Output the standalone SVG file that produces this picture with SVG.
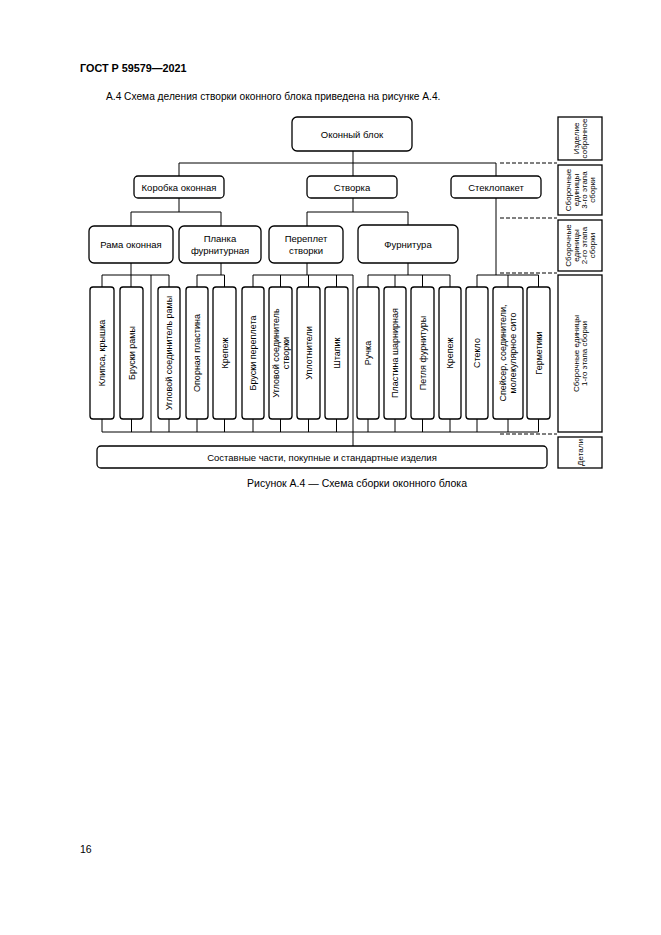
<svg xmlns="http://www.w3.org/2000/svg" width="661" height="935" viewBox="0 0 661 935">
<style>
.b{fill:#fff;stroke:#000;stroke-width:1.3}
.c{fill:none;stroke:#000;stroke-width:1}
.d{fill:none;stroke:#000;stroke-width:1;stroke-dasharray:4 2}
text{font-family:"Liberation Sans",Arial,sans-serif;fill:#000}
.t{font-size:9.5px;text-anchor:middle}
.v{font-size:9px;text-anchor:middle}
.s{font-size:8px;text-anchor:middle}
</style>
<rect width="661" height="935" fill="#fff"/>
<text x="80" y="72" style="font-size:10.8px;font-weight:bold">ГОСТ Р 59579—2021</text>
<text x="106" y="100" style="font-size:10.2px">А.4 Схема деления створки оконного блока приведена на рисунке А.4.</text>

<g id="connectors">
<path class="c" d="M353 151V176M179 163H496M179 163V176M496 163V275"/>
<path class="c" d="M179 198V212M131 212H221M131 212V226M221 212V226"/>
<path class="c" d="M353 198V212M307 212H408M307 212V226M408 212V225"/>
<path class="c" d="M131 263V287M102 275H169M102 275V287M169 275V287M151 275V432"/>
<path class="c" d="M221 263V275M197 275H224.5M197 275V287M224.5 275V287"/>
<path class="c" d="M307 263V275M253 275H353M253 275V287M280.5 275V287M308.5 275V287M336.5 275V287M353 275V446"/>
<path class="c" d="M408 263V275M368 275H450M368 275V287M395 275V287M422.5 275V287M450 275V287"/>
<path class="c" d="M477 275H538.5M477 275V287M508 275V287M538.5 275V287"/>
<path class="c" d="M102 432H538.5M102 419V432M131.5 419V432M169 419V432M197 419V432M224.5 419V432M253 419V432M280.5 419V432M308.5 419V432M336.5 419V432M368 419V432M395 419V432M422.5 419V432M450 419V432M477 419V432M508 419V432M538.5 419V432"/>
<path class="d" d="M500 163H557M500 218H557M500 273H557M500 434H557"/>
</g>

<g id="n-okonny-blok"><rect class="b" x="292" y="117" width="120" height="34" rx="5"/><text class="t" x="352" y="137.5">Оконный блок</text></g>
<g id="n-korobka"><rect class="b" x="134" y="176" width="90" height="22" rx="4"/><text class="t" x="179" y="190.5">Коробка оконная</text></g>
<g id="n-stvorka"><rect class="b" x="307" y="176" width="90" height="22" rx="4"/><text class="t" x="352" y="190.5">Створка</text></g>
<g id="n-steklopaket"><rect class="b" x="451" y="176" width="90" height="22" rx="4"/><text class="t" x="496" y="190.5">Стеклопакет</text></g>

<g id="n-rama"><rect class="b" x="89" y="226" width="84" height="37" rx="5"/><text class="t" x="131" y="248">Рама оконная</text></g>
<g id="n-planka"><rect class="b" x="179" y="226" width="82" height="37" rx="5"/><text class="t" x="220" y="242">Планка</text><text class="t" x="220" y="254">фурнитурная</text></g>
<g id="n-pereplet"><rect class="b" x="269" y="226" width="74" height="37" rx="5"/><text class="t" x="306" y="242">Переплет</text><text class="t" x="306" y="254">створки</text></g>
<g id="n-furnitura"><rect class="b" x="358" y="225" width="100" height="38" rx="5"/><text class="t" x="408" y="247.5">Фурнитура</text></g>

<g id="n-klipsa"><rect class="b" x="90" y="287" width="24" height="132" rx="3"/><text class="v" transform="translate(102 353) rotate(-90)" y="3.2">Клипса, крышка</text></g>
<g id="n-bruski-ramy"><rect class="b" x="120" y="287" width="23" height="132" rx="3"/><text class="v" transform="translate(131.5 353) rotate(-90)" y="3.2">Бруски рамы</text></g>
<g id="n-uglovoy-ramy"><rect class="b" x="158" y="287" width="22" height="132" rx="3"/><text class="v" transform="translate(169 353) rotate(-90)" y="3.2">Угловой соединитель рамы</text></g>
<g id="n-opornaya"><rect class="b" x="186" y="287" width="22" height="132" rx="3"/><text class="v" transform="translate(197 353) rotate(-90)" y="3.2">Опорная пластина</text></g>
<g id="n-krepezh1"><rect class="b" x="213" y="287" width="23" height="132" rx="3"/><text class="v" transform="translate(224.5 353) rotate(-90)" y="3.2">Крепеж</text></g>
<g id="n-bruski-perepleta"><rect class="b" x="242" y="287" width="22" height="132" rx="3"/><text class="v" transform="translate(253 353) rotate(-90)" y="3.2">Бруски переплета</text></g>
<g id="n-uglovoy-stvorki"><rect class="b" x="269" y="287" width="23" height="132" rx="3"/><text class="v" transform="translate(280.5 353) rotate(-90)"><tspan x="0" y="-1.8">Угловой соединитель</tspan><tspan x="0" y="8.2">створки</tspan></text></g>
<g id="n-uplotniteli"><rect class="b" x="297" y="287" width="23" height="132" rx="3"/><text class="v" transform="translate(308.5 353) rotate(-90)" y="3.2">Уплотнители</text></g>
<g id="n-shtapik"><rect class="b" x="325" y="287" width="23" height="132" rx="3"/><text class="v" transform="translate(336.5 353) rotate(-90)" y="3.2">Штапик</text></g>
<g id="n-ruchka"><rect class="b" x="357" y="287" width="22" height="132" rx="3"/><text class="v" transform="translate(368 353) rotate(-90)" y="3.2">Ручка</text></g>
<g id="n-plastina"><rect class="b" x="384" y="287" width="22" height="132" rx="3"/><text class="v" transform="translate(395 353) rotate(-90)" y="3.2">Пластина шарнирная</text></g>
<g id="n-petlya"><rect class="b" x="411" y="287" width="23" height="132" rx="3"/><text class="v" transform="translate(422.5 353) rotate(-90)" y="3.2">Петля фурнитуры</text></g>
<g id="n-krepezh2"><rect class="b" x="439" y="287" width="22" height="132" rx="3"/><text class="v" transform="translate(450 353) rotate(-90)" y="3.2">Крепеж</text></g>
<g id="n-steklo"><rect class="b" x="466" y="287" width="22" height="132" rx="3"/><text class="v" transform="translate(477 353) rotate(-90)" y="3.2">Стекло</text></g>
<g id="n-speyser"><rect class="b" x="493" y="287" width="30" height="132" rx="3"/><text class="v" transform="translate(508 353) rotate(-90)"><tspan x="0" y="-1.8">Спейсер, соединители,</tspan><tspan x="0" y="8.2">молекулярное сито</tspan></text></g>
<g id="n-germetiki"><rect class="b" x="527" y="287" width="23" height="132" rx="3"/><text class="v" transform="translate(538.5 353) rotate(-90)" y="3.2">Герметики</text></g>

<g id="n-sostavnye"><rect class="b" x="97" y="446" width="450" height="22" rx="4"/><text class="t" x="322" y="460.5">Составные части, покупные и стандартные изделия</text></g>

<g id="legend">
<rect class="b" x="558" y="117" width="44" height="43"/>
<text class="s" transform="translate(580 138.5) rotate(-90)"><tspan x="0" y="-1.2">Изделие</tspan><tspan x="0" y="6.8">собранное</tspan></text>
<rect class="b" x="558" y="165" width="44" height="50"/>
<text class="s" transform="translate(580 190) rotate(-90)"><tspan x="0" y="-9.2">Сборочные</tspan><tspan x="0" y="-1.2">единицы</tspan><tspan x="0" y="6.8">3-го этапа</tspan><tspan x="0" y="14.8">сборки</tspan></text>
<rect class="b" x="558" y="220" width="44" height="51"/>
<text class="s" transform="translate(580 245.5) rotate(-90)"><tspan x="0" y="-9.2">Сборочные</tspan><tspan x="0" y="-1.2">единицы</tspan><tspan x="0" y="6.8">2-го этапа</tspan><tspan x="0" y="14.8">сборки</tspan></text>
<rect class="b" x="558" y="275" width="44" height="157"/>
<text class="s" transform="translate(580 353.5) rotate(-90)"><tspan x="0" y="-1.2">Сборочные единицы</tspan><tspan x="0" y="6.8">1-го этапа сборки</tspan></text>
<rect class="b" x="558" y="437" width="44" height="31"/>
<text class="s" transform="translate(580 452.5) rotate(-90)" y="2.8">Детали</text>
</g>

<text x="357" y="487" style="font-size:10.5px;text-anchor:middle">Рисунок А.4 — Схема сборки оконного блока</text>
<text x="80" y="853" style="font-size:10.5px">16</text>
</svg>
